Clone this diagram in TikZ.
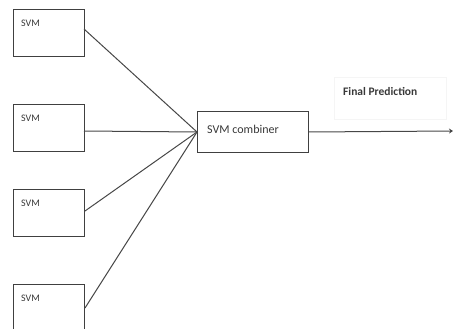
\documentclass[tikz,border=0pt]{standalone}
\usepackage{fontspec}
\setmainfont{Carlito}
\usetikzlibrary{arrows.meta}
\begin{document}
\begin{tikzpicture}[x=1pt,y=-1pt,
  svmbox/.style={draw=black!75, line width=1pt, minimum width=71pt, minimum height=47pt, inner sep=0pt},
  conn/.style={draw=black!72, line width=1pt},
  lbl/.style={inner sep=0pt, anchor=north west, text=black!78}]
\useasboundingbox (0,0) rectangle (453,329);
\begin{scope}
\clip (0,0) rectangle (453,329);
\node[svmbox, anchor=north west] (s1) at (13,9) {};
\node[svmbox, anchor=north west] (s2) at (13,104) {};
\node[svmbox, anchor=north west] (s3) at (13,189) {};
\node[svmbox, anchor=north west] (s4) at (13,284) {};
\node[lbl, font=\fontsize{10}{12}\selectfont] (t1) at (21,20) {SVM};
\node[lbl, font=\fontsize{10}{12}\selectfont] (t2) at (21,115) {SVM};
\node[lbl, font=\fontsize{10}{12}\selectfont] (t3) at (21,200) {SVM};
\node[lbl, font=\fontsize{10}{12}\selectfont] (t4) at (21,295) {SVM};
\node[svmbox, minimum width=111pt, minimum height=41pt, anchor=north west] (c) at (197,111) {};
\node[lbl, font=\fontsize{12}{14}\selectfont] (ct) at (207,125) {SVM combiner};
\node[draw=black!4, line width=0.5pt, minimum width=112pt, minimum height=42pt, anchor=north west, inner sep=0pt] (fb) at (334,77) {};
\node[lbl, font=\bfseries\fontsize{11.5}{14}\selectfont] (ft) at (343,87) {Final Prediction};
\coordinate (e1) at (84,29);
\coordinate (e2) at (84,131);
\coordinate (e3) at (85,211);
\coordinate (e4) at (85,308);
\coordinate (out) at (453,131);
\draw[conn] (e1) -- (c.west);
\draw[conn] (e2) -- (c.west);
\draw[conn] (e3) -- (c.west);
\draw[conn] (e4) -- (c.west);
\draw[conn, -{Stealth[length=4pt,width=5pt]}] (c.east) -- (out);
\end{scope}
\end{tikzpicture}
\end{document}
